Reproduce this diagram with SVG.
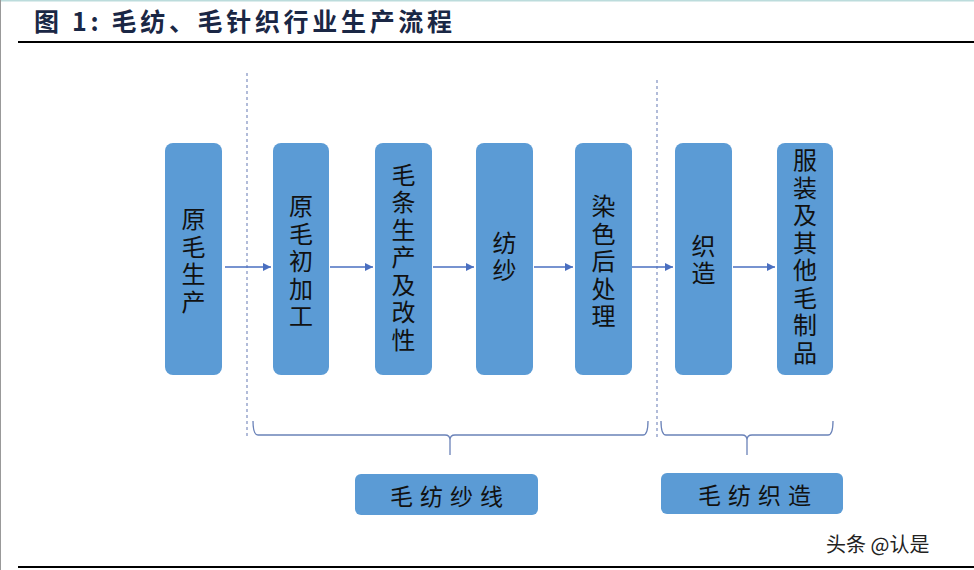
<svg xmlns="http://www.w3.org/2000/svg" width="974" height="570" viewBox="0 0 974 570">
<defs>
<marker id="ah" viewBox="0 0 10 10" refX="10" refY="5" markerWidth="8" markerHeight="8" markerUnits="userSpaceOnUse" orient="auto">
<path d="M0,0 L10,5 L0,10 z" fill="#4a6fc0"/>
</marker>
<style>
.box{fill:#5b9bd5;}
.vt{font-family:"Noto Sans CJK SC","Noto Sans CJK JP",sans-serif;font-size:24px;fill:#111;text-anchor:middle;writing-mode:vertical-rl;letter-spacing:3.5px;}
.ht{font-family:"Noto Sans CJK SC","Noto Sans CJK JP",sans-serif;font-size:23px;fill:#111;text-anchor:middle;dominant-baseline:central;letter-spacing:7px;}
.conn{stroke:#4a6fc0;stroke-width:1.3;fill:none;}
.dash{stroke:#7f8fc0;stroke-width:1.2;stroke-dasharray:3,3;fill:none;}
.brace{stroke:#6a82b8;stroke-width:1.3;fill:none;}
</style>
</defs>
<rect x="0" y="0" width="974" height="570" fill="#ffffff"/>
<line x1="0" y1="0.5" x2="974" y2="0.5" stroke="#bcdcdc" stroke-width="2"/>
<line x1="0.5" y1="0" x2="0.5" y2="570" stroke="#999" stroke-width="1"/>
<g id="title">
<text x="34" y="31" font-family="'Noto Sans CJK SC',sans-serif" font-size="25" font-weight="bold" fill="#1a2745" textLength="418" lengthAdjust="spacing">图 1: 毛纺、毛针织行业生产流程</text>
<line x1="18" y1="42" x2="974" y2="42" stroke="#000" stroke-width="2"/>
</g>
<g id="dividers">
<line class="dash" x1="247" y1="73" x2="247" y2="437"/>
<line class="dash" x1="657" y1="80" x2="657" y2="437"/>
</g>
<g id="n1"><rect class="box" x="165" y="143" width="57" height="232" rx="8"/>
<text class="vt" x="193.5" y="262">原毛生产</text></g>
<g id="n2"><rect class="box" x="273" y="143" width="56" height="232" rx="8"/>
<text class="vt" x="301" y="263">原毛初加工</text></g>
<g id="n3"><rect class="box" x="375" y="143" width="57" height="232" rx="8"/>
<text class="vt" x="403.5" y="259">毛条生产及改性</text></g>
<g id="n4"><rect class="box" x="476" y="143" width="57" height="232" rx="8"/>
<text class="vt" x="504.5" y="258">纺纱</text></g>
<g id="n5"><rect class="box" x="575" y="143" width="57" height="232" rx="8"/>
<text class="vt" x="603.5" y="263">染色后处理</text></g>
<g id="n6"><rect class="box" x="675" y="143" width="57" height="232" rx="8"/>
<text class="vt" x="703.5" y="261">织造</text></g>
<g id="n7"><rect class="box" x="777" y="143" width="56" height="232" rx="8"/>
<text class="vt" x="805" y="258">服装及其他毛制品</text></g>
<g id="connectors">
<line class="conn" x1="225" y1="267" x2="271" y2="267" marker-end="url(#ah)"/>
<line class="conn" x1="330" y1="267" x2="373" y2="267" marker-end="url(#ah)"/>
<line class="conn" x1="433" y1="267" x2="474" y2="267" marker-end="url(#ah)"/>
<line class="conn" x1="534" y1="267" x2="573" y2="267" marker-end="url(#ah)"/>
<line class="conn" x1="632" y1="267" x2="673" y2="267" marker-end="url(#ah)"/>
<line class="conn" x1="733" y1="267" x2="775" y2="267" marker-end="url(#ah)"/>
</g>
<g id="braces">
<path class="brace" d="M253,421 Q253,435 258,435 L445,435 Q450,435 450,440 L450,455 M450,440 Q450,435 455,435 L643,435 Q648,435 648,421"/>
<path class="brace" d="M661,421 Q661,435 666,435 L742,435 Q747,435 747,440 L747,455 M747,440 Q747,435 752,435 L828,435 Q833,435 833,421"/>
</g>
<g id="b1"><rect class="box" x="355" y="474" width="183" height="41" rx="6"/>
<text class="ht" x="450" y="495">毛纺纱线</text></g>
<g id="b2"><rect class="box" x="661" y="473" width="182" height="41" rx="6"/>
<text class="ht" x="758" y="494">毛纺织造</text></g>
<g id="watermark">
<text x="826" y="552" font-family="'Noto Sans CJK SC',sans-serif" font-size="20" fill="#222">头条 @认是</text>
</g>
<line x1="18" y1="567" x2="974" y2="567" stroke="#000" stroke-width="2"/>
</svg>
